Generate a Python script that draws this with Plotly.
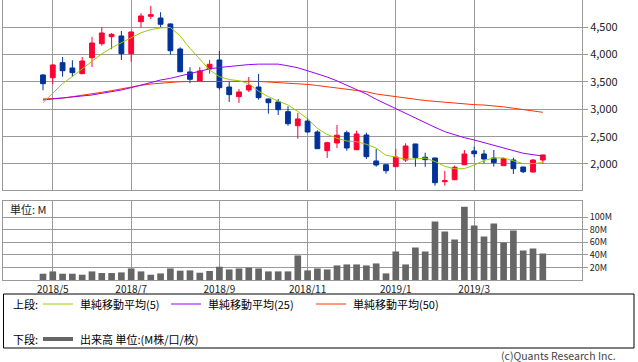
import plotly.graph_objects as go

# ---------------- data (weekly, 2018-04-23 .. 2019-04-15) ----------------
opens = [3628, 3578, 3853, 3756, 3652, 3944, 4200, 4328, 4341, 4017, 4603, 4701, 4670, 4561, 4103, 3683,
         3518, 3738, 3902, 3408, 3231, 3353, 3408, 3189, 3134, 2957, 2700, 2786, 2585, 2243, 2384, 2572,
         2262, 2530, 2055, 1987, 1951, 2073, 2366, 2123, 2110, 1676, 1713, 1987, 2238, 2183, 2110, 1969,
         2073, 1945, 1854, 2073]
highs = [3646, 3824, 3957, 3897, 3957, 4323, 4506, 4396, 4433, 4420, 4756, 4890, 4775, 4570, 4134, 3769,
         3774, 3902, 4067, 3505, 3372, 3591, 3646, 3195, 3189, 3055, 2933, 2836, 2616, 2408, 2713, 2609,
         2609, 2572, 2274, 1990, 2274, 2379, 2370, 2207, 2115, 1872, 1969, 2256, 2316, 2256, 2256, 2115,
         2115, 1950, 2086, 2170]
lows = [3348, 3458, 3597, 3597, 3640, 3774, 4164, 4098, 3902, 3871, 4493, 4647, 4500, 3999, 3677, 3476,
        3500, 3652, 3359, 3134, 3116, 3317, 3176, 2920, 2896, 2700, 2463, 2580, 2275, 2110, 2293, 2243,
        2250, 2091, 1951, 1823, 1945, 2037, 1951, 1951, 1603, 1603, 1702, 1980, 2123, 2013, 1951, 1965,
        1817, 1835, 1841, 2005]
closes = [3469, 3811, 3706, 3670, 3884, 4213, 4396, 4372, 4017, 4414, 4707, 4731, 4555, 4072, 3688, 3549,
          3701, 3824, 3396, 3268, 3317, 3439, 3213, 3121, 2993, 2737, 2823, 2585, 2280, 2390, 2525, 2293,
          2549, 2134, 1982, 1877, 2128, 2329, 2115, 2079, 1658, 1695, 1940, 2183, 2188, 2091, 2024, 2097,
          1914, 1859, 2073, 2165]
sma5 = [3121, 3300, 3470, 3600, 3735, 3885, 4015, 4125, 4213, 4308, 4400, 4458, 4488, 4497, 4340, 4116,
        3915, 3719, 3597, 3545, 3522, 3470, 3330, 3230, 3150, 3080, 2960, 2825, 2650, 2540, 2470, 2420,
        2408, 2360, 2290, 2160, 2128, 2086, 2092, 2107, 2045, 1957, 1912, 1915, 1980, 2064, 2110, 2112,
        2058, 2007, 2007, 2024]
sma25 = [3171, 3190, 3200, 3220, 3244, 3262, 3293, 3317, 3353, 3396, 3445, 3494, 3536, 3567, 3610, 3646,
         3700, 3740, 3765, 3786, 3805, 3818, 3826, 3829, 3826, 3795, 3760, 3705, 3650, 3590, 3520, 3440,
         3360, 3280, 3183, 3097, 3006, 2915, 2836, 2755, 2671, 2591, 2530, 2481, 2439, 2390, 2342, 2293,
         2243, 2196, 2170, 2146]
sma50 = [3189, 3201, 3205, 3231, 3262, 3286, 3311, 3341, 3377, 3414, 3439, 3463, 3481, 3494, 3505, 3507,
         3510, 3512, 3512, 3512, 3512, 3512, 3510, 3500, 3487, 3478, 3472, 3455, 3435, 3410, 3390, 3370,
         3345, 3322, 3280, 3255, 3240, 3215, 3192, 3160, 3145, 3128, 3110, 3097, 3085, 3078, 3065, 3045,
         3020, 2995, 2969, 2945]
volumes_m = [10.0, 13.7, 10.0, 10.0, 8.4, 13.7, 11.1, 11.1, 12.1, 18.4, 13.7, 8.4, 10.5, 18.4, 14.8, 15.3,
             11.6, 14.3, 21.1, 16.8, 18.4, 19.5, 18.4, 13.7, 13.7, 13.7, 39.1, 15.3, 18.4, 16.8, 23.2, 24.8,
             24.8, 23.2, 26.4, 10.5, 45.4, 24.8, 51.8, 45.4, 93.0, 77.2, 64.5, 116.8, 86.7, 69.2, 89.8, 59.7,
             78.7, 47.0, 50.2, 42.2]
x_tick_pos = [1, 9, 18, 27, 36, 44]
x_tick_labels = ["2018/5", "2018/7", "2018/9", "2018/11", "2019/1", "2019/3"]
price_ticks = [2000, 2500, 3000, 3500, 4000, 4500]
vol_ticks = [20, 40, 60, 80, 100]
vol_tick_labels = ["20M", "40M", "60M", "80M", "100M"]

weeks = list(range(len(opens)))

# ---------------- styling ----------------
W, H = 638, 362
ML, MR, MT, MB = 3, 56, 0, 82
PW, PH = W - ML - MR, H - MT - MB
FONT = "Noto Sans CJK JP, DejaVu Sans, sans-serif"
GRID = "#999999"
RED, BLUE = "#FF0033", "#003399"


def px(xp):
    return (xp - ML) / PW


def py(yp):
    return (H - MB - yp) / PH


fig = go.Figure()

fig.add_trace(go.Candlestick(
    x=weeks, open=opens, high=highs, low=lows, close=closes,
    increasing=dict(line=dict(color=RED, width=1), fillcolor=RED),
    decreasing=dict(line=dict(color=BLUE, width=1), fillcolor=BLUE),
    whiskerwidth=0, showlegend=False, hoverinfo="skip",
    xaxis="x", yaxis="y"))

for vals, col in [(sma50, "#FF3300"), (sma25, "#9900FF"), (sma5, "#99CC00")]:
    fig.add_trace(go.Scatter(x=weeks, y=vals, mode="lines", line=dict(color=col, width=1),
                             showlegend=False, hoverinfo="skip", xaxis="x", yaxis="y"))

fig.add_trace(go.Bar(x=weeks, y=volumes_m, width=0.68, marker=dict(color="#666666", line=dict(width=0)),
                     showlegend=False, hoverinfo="skip", xaxis="x2", yaxis="y2"))

xrange = [-4.08, 55.0]
axis_common = dict(showline=True, mirror=True, linecolor=GRID, linewidth=1,
                   gridcolor=GRID, gridwidth=1, zeroline=False)

fig.update_layout(
    width=W, height=H,
    margin=dict(l=ML, r=MR, t=MT, b=MB),
    paper_bgcolor="white", plot_bgcolor="white",
    font=dict(family=FONT, size=11, color="#222222"),
    boxgap=0.3,
    bargap=0.3,
    xaxis=dict(domain=[0, 1], range=xrange, anchor="y", tickvals=x_tick_pos, showticklabels=False,
               ticks="", rangeslider=dict(visible=False), **axis_common),
    yaxis=dict(domain=[0.3204, 1.0], range=[1519, 4999], side="right", anchor="x",
               tickvals=price_ticks, tickformat=",d", ticks="outside", ticklen=5, tickcolor=GRID,
               tickfont=dict(size=11, color="#222222"), **axis_common),
    xaxis2=dict(domain=[0, 1], range=xrange, anchor="y2", tickvals=x_tick_pos, ticktext=x_tick_labels,
                ticks="", tickfont=dict(size=10, color="#222222"), **axis_common),
    yaxis2=dict(domain=[0, 0.2804], range=[0, 125], side="right", anchor="x2",
                tickvals=vol_ticks, ticktext=vol_tick_labels, ticks="outside", ticklen=5, tickcolor=GRID,
                tickfont=dict(size=9, color="#222222"), **axis_common),
)

shapes = []
annotations = []

# unit label in volume panel
annotations.append(dict(x=px(8), y=py(209), xref="paper", yref="paper", text="単位: M",
                        showarrow=False, xanchor="left", yanchor="middle",
                        font=dict(size=11, color="#222222")))

# legend box
shapes.append(dict(type="rect", xref="paper", yref="paper", x0=px(3.5), x1=px(634), y0=py(294), y1=py(348),
                   line=dict(color="#000000", width=1), fillcolor="rgba(0,0,0,0)"))
row1, row2 = 304, 339
leg_items = [(43, 73, 78, "単純移動平均(5)", "#99CC00"),
             (171, 201, 206, "単純移動平均(25)", "#9900FF"),
             (316, 346, 351, "単純移動平均(50)", "#FF3300")]
annotations.append(dict(x=px(11), y=py(row1), xref="paper", yref="paper", text="上段:", showarrow=False,
                        xanchor="left", yanchor="middle", font=dict(size=11, color="#000000")))
for x0, x1, tx, label, col in leg_items:
    shapes.append(dict(type="line", xref="paper", yref="paper", x0=px(x0), x1=px(x1), y0=py(row1), y1=py(row1),
                       line=dict(color=col, width=1)))
    annotations.append(dict(x=px(tx), y=py(row1), xref="paper", yref="paper", text=label, showarrow=False,
                            xanchor="left", yanchor="middle", font=dict(size=11, color="#000000")))
annotations.append(dict(x=px(11), y=py(row2), xref="paper", yref="paper", text="下段:", showarrow=False,
                        xanchor="left", yanchor="middle", font=dict(size=11, color="#000000")))
shapes.append(dict(type="line", xref="paper", yref="paper", x0=px(43), x1=px(73), y0=py(row2), y1=py(row2),
                   line=dict(color="#666666", width=4)))
annotations.append(dict(x=px(78), y=py(row2), xref="paper", yref="paper", text="出来高 単位:(M株/口/枚)",
                        showarrow=False, xanchor="left", yanchor="middle", font=dict(size=11, color="#000000")))

# copyright
annotations.append(dict(x=px(618), y=py(355), xref="paper", yref="paper", text="(c)Quants Research Inc.",
                        showarrow=False, xanchor="right", yanchor="middle", font=dict(size=10.5, color="#444444")))

fig.update_layout(shapes=shapes, annotations=annotations)

fig.write_html("out.html", config={"displayModeBar": False},
               post_script="document.body.style.margin='0';document.body.style.overflow='hidden';")
